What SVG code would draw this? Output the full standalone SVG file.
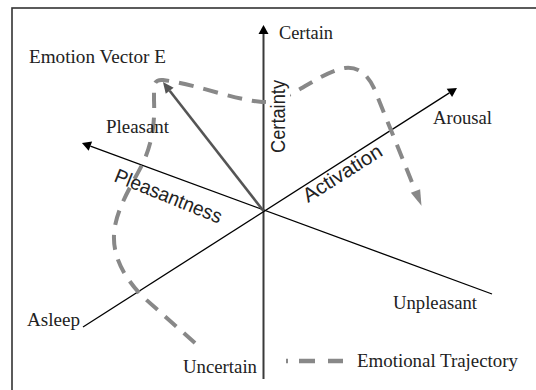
<svg xmlns="http://www.w3.org/2000/svg" width="536" height="390" viewBox="0 0 536 390">
  <style>
    .frame { fill: #fff; stroke: #333; stroke-width: 1.6; }
    .axis { fill: none; stroke: #000; stroke-width: 1.3; }
    .axis-v { fill: none; stroke: #3a3a3a; stroke-width: 2; }
    .vector { fill: none; stroke: #555; stroke-width: 2.6; }
    .traj { fill: none; stroke: #888; stroke-width: 4; stroke-dasharray: 15 10; }
    .legend { fill: none; stroke: #888; stroke-width: 4.5; }
    .serif { font-family: "Liberation Serif", "DejaVu Serif", serif; font-size: 19px; fill: #222; }
    .sans { font-family: "Liberation Sans", Arial, sans-serif; font-size: 20px; fill: #222; }
  </style>
  <defs>
    <marker id="head" markerUnits="userSpaceOnUse" markerWidth="10" markerHeight="10" refX="0" refY="5" orient="auto" overflow="visible">
      <path d="M0,0 L9,5 L0,10 z" fill="#000"/>
    </marker>
    <marker id="headGray" markerUnits="userSpaceOnUse" markerWidth="12" markerHeight="10" refX="0" refY="5" orient="auto" overflow="visible">
      <path d="M0,0 L11,5 L0,10 z" fill="#555"/>
    </marker>
    <marker id="headTraj" markerUnits="userSpaceOnUse" markerWidth="16" markerHeight="10" refX="0" refY="5" orient="auto" overflow="visible">
      <path d="M0,0 L16,5 L0,10 z" fill="#888"/>
    </marker>
  </defs>

  <!-- outer frame (right and bottom edges run off the canvas) -->
  <rect class="frame" x="12" y="8" width="540" height="400"/>

  <g id="connectors">
    <!-- certainty axis -->
    <line class="axis-v" x1="263.5" y1="379" x2="263.5" y2="34" marker-end="url(#head)"/>
    <!-- pleasantness axis: unpleasant -> pleasant -->
    <line class="axis" x1="492" y1="294" x2="90.4" y2="146.1" marker-end="url(#head)"/>
    <!-- activation axis: asleep -> arousal -->
    <line class="axis" x1="83" y1="327" x2="449.4" y2="92.9" marker-end="url(#head)"/>
    <!-- emotion vector E -->
    <line class="vector" x1="263.5" y1="211" x2="169.7" y2="90.7" marker-end="url(#headGray)"/>
    <!-- emotional trajectory -->
    <path class="traj" d="M195,343 L142,296 C125,278 113,258 114,235 C115,210 132,185 143,163 C152,143 155,125 154,100 L154,88 Q154,79 163,80 C195,84 235,100 262,102 C290,103 318,72 345,68 C362,66 372,80 378,98 L415.5,191" marker-end="url(#headTraj)"/>
  </g>

  <g id="label-certainty">
    <rect x="266" y="78" width="24" height="78" fill="#fff"/>
    <text class="sans" transform="translate(284.5,153) rotate(-90)" textLength="73" lengthAdjust="spacingAndGlyphs">Certainty</text>
  </g>
  <g id="label-pleasantness">
    <text class="sans" font-size="19.5" transform="translate(113,181) rotate(22)" textLength="114" lengthAdjust="spacingAndGlyphs">Pleasantness</text>
  </g>
  <g id="label-activation">
    <text class="sans" font-size="20.5" transform="translate(308,203) rotate(-32.4)" textLength="90" lengthAdjust="spacingAndGlyphs">Activation</text>
  </g>

  <g id="label-emotion-vector">
    <text class="serif" x="29" y="63" textLength="137" lengthAdjust="spacingAndGlyphs">Emotion Vector E</text>
  </g>
  <g id="label-certain">
    <text class="serif" x="279" y="39" textLength="54" lengthAdjust="spacingAndGlyphs">Certain</text>
  </g>
  <g id="label-pleasant">
    <text class="serif" x="106" y="133" textLength="63" lengthAdjust="spacingAndGlyphs">Pleasant</text>
  </g>
  <g id="label-arousal">
    <text class="serif" x="433" y="124" textLength="59" lengthAdjust="spacingAndGlyphs">Arousal</text>
  </g>
  <g id="label-unpleasant">
    <text class="serif" x="393" y="309" textLength="84" lengthAdjust="spacingAndGlyphs">Unpleasant</text>
  </g>
  <g id="label-asleep">
    <text class="serif" x="27" y="326" textLength="53" lengthAdjust="spacingAndGlyphs">Asleep</text>
  </g>
  <g id="label-uncertain">
    <text class="serif" x="183" y="372.5" textLength="74" lengthAdjust="spacingAndGlyphs">Uncertain</text>
  </g>

  <g id="legend">
    <path class="legend" d="M286,361 H288 M299,361 H315 M328,361 H343"/>
    <text class="serif" x="357" y="366.5" textLength="161" lengthAdjust="spacingAndGlyphs">Emotional Trajectory</text>
  </g>
</svg>
